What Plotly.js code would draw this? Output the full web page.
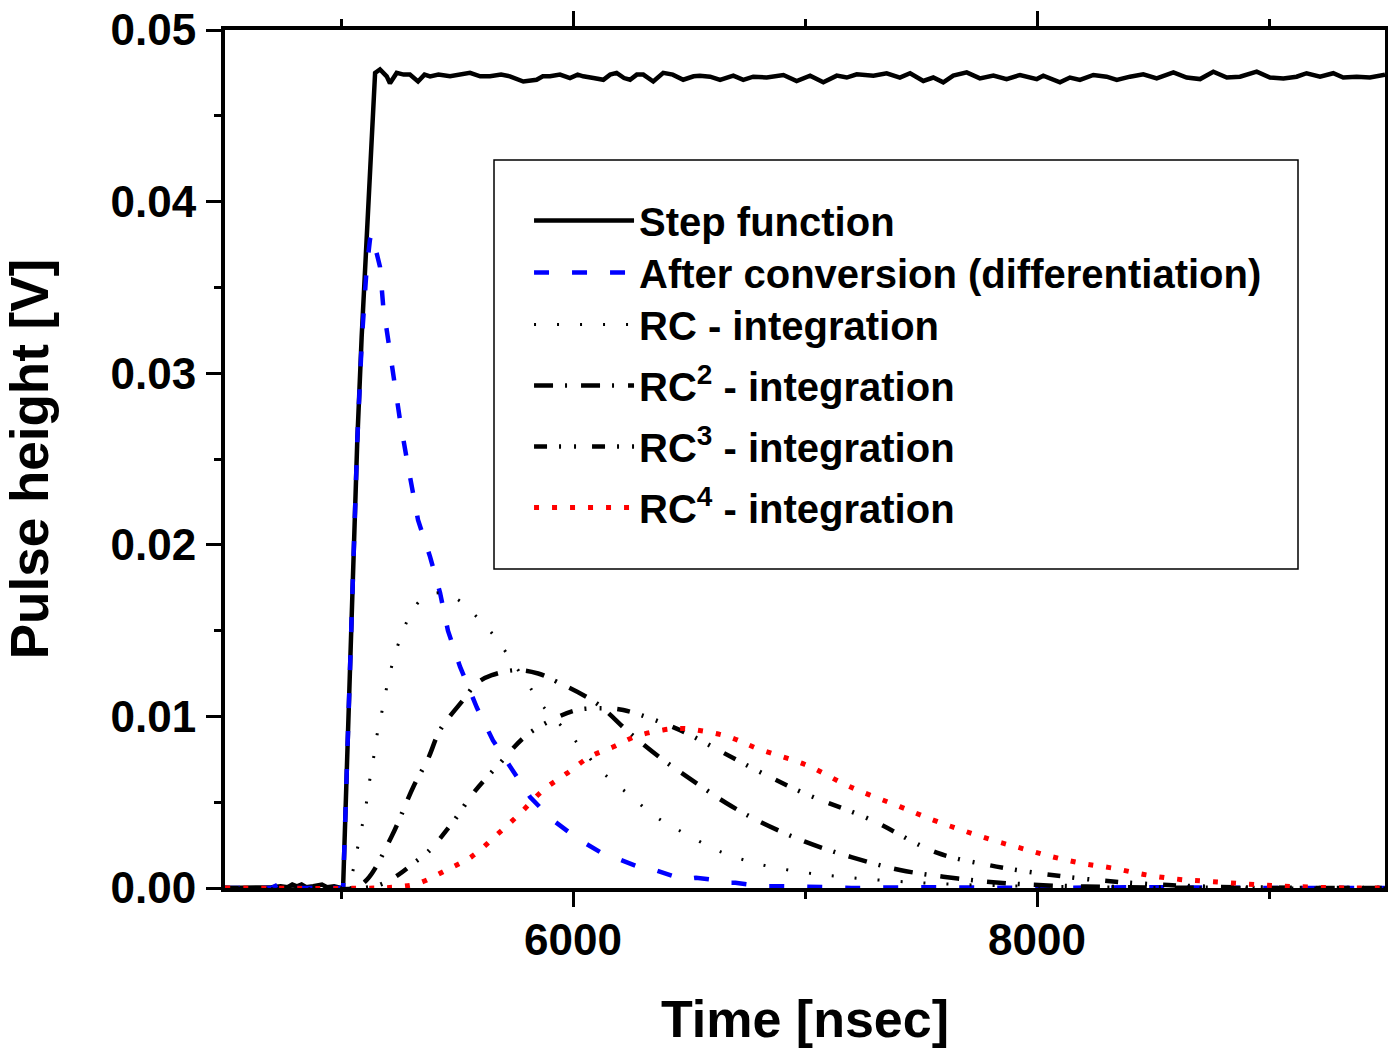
<!DOCTYPE html>
<html>
<head>
<meta charset="utf-8">
<script src="https://cdn.plot.ly/plotly-3.0.1.min.js"></script>
<style>html,body{margin:0;padding:0;background:#fff;}</style>
</head>
<body>
<div id="chart" style="width:1388px;height:1048px;"></div>
<script>
// ---- Data ----
const seriesNames = [
  "Step function",
  "After conversion (differentiation)",
  "RC - integration",
  "RC<sup>2</sup> - integration",
  "RC<sup>3</sup> - integration",
  "RC<sup>4</sup> - integration"
];

const stepX = [4500,4600,4700,4740,4770,4790,4810,4830,4850,4880,4900,4918,4940,4970,5000,5009,5030,5050,5070,5089,5103,5118,5128,5137,5147,5168,5197,5211,5240,5270,5297,5332,5360,5384,5420,5470,5510,5556,5600,5642,5690,5728,5786,5843,5870,5901,5944,5987,6020,6044,6088,6131,6160,6188,6220,6246,6275,6303,6346,6389,6430,6475,6520,6547,6591,6634,6691,6734,6777,6835,6907,6964,7022,7079,7137,7180,7223,7295,7352,7409,7453,7510,7553,7596,7639,7697,7754,7812,7869,7927,7999,8027,8099,8142,8185,8243,8300,8344,8401,8458,8516,8588,8645,8703,8760,8818,8875,8947,9004,9062,9119,9162,9220,9277,9320,9378,9435,9486,9500];
const stepY = [0,0,0.00005,0.0001,0.00005,0.0002,0.0001,0.0002,0.00005,0.0001,0.00015,0.0002,0.00005,0.0001,0,0,0.009,0.018,0.026,0.0321,0.0358,0.0397,0.0436,0.0459,0.0475,0.0477,0.0473,0.0469,0.0475,0.0474,0.0474,0.0470,0.0474,0.0473,0.0474,0.0473,0.0474,0.0475,0.0473,0.0473,0.0474,0.0473,0.0470,0.0471,0.0473,0.0473,0.0474,0.0472,0.0474,0.0473,0.0472,0.0471,0.0474,0.0475,0.0472,0.0471,0.0474,0.0474,0.0470,0.0475,0.0474,0.0471,0.0473,0.04734,0.04728,0.04709,0.04734,0.04709,0.04728,0.04723,0.04738,0.04703,0.04734,0.04695,0.04734,0.04723,0.04742,0.04734,0.04748,0.04723,0.04748,0.04703,0.04723,0.04695,0.04734,0.04753,0.04718,0.04734,0.04714,0.04738,0.04714,0.04734,0.04695,0.04723,0.04709,0.04738,0.04728,0.04709,0.04728,0.04742,0.04718,0.04753,0.04723,0.04714,0.04757,0.04723,0.04728,0.04757,0.04723,0.04718,0.04728,0.04748,0.04728,0.04748,0.04723,0.04728,0.04723,0.04738,0.0474];

const diffX = [4500,4700,4728,4750,4789,4810,4900,4918,4940,5000,5009,5030,5050,5070,5090,5110,5125,5132,5150,5168,5182,5204,5254,5290,5332,5384,5427,5461,5513,5586,5655,5728,5815,5909,6017,6116,6190,6240,6289,6340,6388,6430,6474,6530,6590,6650,6700,6760,6800,6900,7000,7100,7200,7500,8000,8500,9000,9500];
const diffY = [0,0,0.0002,0,0.0002,0,0,0.0002,0,0,0,0.009,0.0175,0.026,0.032,0.036,0.0378,0.0381,0.0372,0.0362,0.0339,0.0319,0.0273,0.0245,0.02145,0.0193,0.0172,0.015,0.0129,0.0105,0.0086,0.0071,0.0053,0.004,0.0029,0.0021,0.0017,0.0014,0.0012,0.0011,0.0009,0.0007,0.0005,0.0006,0.0005,0.0003,0.0003,0.0002,0.0001,0.0001,0.0001,0.00005,0,0.00005,0,0.00005,0,0];

const rc1X = [4500,5000,5020,5046,5068,5089,5108,5122,5139,5154,5175,5194,5218,5247,5286,5341,5420,5499,5578,5657,5714,5822,5872,6001,6116,6181,6253,6318,6389,6454,6547,6634,6800,7000,7200,7500,7800,8000,8500,9000,9500];
const rc1Y = [0,0,0.0001,0.00076,0.00212,0.00348,0.00484,0.00614,0.00746,0.00882,0.01018,0.0115,0.0129,0.01422,0.01558,0.01674,0.0172,0.01684,0.0159,0.01474,0.01368,0.01154,0.01057,0.00872,0.00688,0.0061,0.00532,0.00455,0.00387,0.00338,0.0027,0.00212,0.0014,0.0009,0.0006,0.0003,0.00015,0.0001,0.00003,0,0];

const rc2X = [4500,5050,5111,5218,5312,5376,5427,5527,5585,5650,5757,5850,5930,6102,6246,6389,6533,6662,6800,7000,7200,7409,7596,7783,8006,8300,8600,9000,9500];
const rc2Y = [0,0,0.00047,0.003,0.0059,0.00756,0.0092,0.01096,0.01193,0.0124,0.0127,0.0125,0.01202,0.01076,0.00901,0.00746,0.0061,0.00494,0.0039,0.0027,0.0018,0.00105,0.00066,0.00037,0.00017,0.00006,0.00002,0,0];

const rc3X = [4500,5100,5182,5250,5312,5376,5484,5570,5685,5793,5908,6016,6131,6217,6353,6490,6626,6800,7000,7280,7568,7790,8013,8250,8487,8724,9000,9500];
const rc3Y = [0,0,0.00027,0.0008,0.00144,0.00212,0.00387,0.00552,0.00727,0.00882,0.00979,0.01037,0.01047,0.01037,0.00979,0.00902,0.00804,0.0068,0.0055,0.004,0.00206,0.00134,0.00085,0.00047,0.00023,0.00008,0.00002,0];

const rc4X = [4500,5150,5254,5333,5455,5563,5671,5772,5872,5973,6073,6174,6267,6389,6460,6533,6669,6800,7000,7194,7409,7553,7675,7805,7934,8063,8193,8329,8473,8616,8760,8975,9119,9350,9500];
const rc4Y = [0,0,0.00008,0.00027,0.00105,0.00183,0.00309,0.00435,0.00571,0.00668,0.00765,0.00823,0.00882,0.00921,0.0093,0.00921,0.00882,0.0081,0.0072,0.0059,0.00474,0.00396,0.00338,0.0028,0.00231,0.00183,0.00144,0.00115,0.00076,0.0005,0.00037,0.00017,0.00008,0,0];

const xTickStep = 2000;
const yTickStep = 0.01;

// ---- Figure ----
const FONT = "Liberation Sans, Arial, Helvetica, sans-serif";
const legendIds = ["legend", "legend2", "legend3", "legend4", "legend5", "legend6"];
const legendTops = [0.8159, 0.7552, 0.6946, 0.6235, 0.5524, 0.4814];

const traces = [
  {x: stepX, y: stepY, name: seriesNames[0], mode: "lines",
   line: {color: "#000000", width: 4.5}},
  {x: diffX, y: diffY, name: seriesNames[1], mode: "lines",
   line: {color: "#0000ff", width: 4.5, dash: "15px,23px"}},
  {x: rc1X, y: rc1Y, name: seriesNames[2], mode: "lines",
   line: {color: "#000000", width: 3, dash: "2px,21px", shape: "spline"}},
  {x: rc2X, y: rc2Y, name: seriesNames[3], mode: "lines",
   line: {color: "#000000", width: 4.5, dash: "19px,12px,2px,14px", shape: "spline"}},
  {x: rc3X, y: rc3Y, name: seriesNames[4], mode: "lines",
   line: {color: "#000000", width: 4.5, dash: "13px,12px,2px,13px,2px,16px", shape: "spline"}},
  {x: rc4X, y: rc4Y, name: seriesNames[5], mode: "lines",
   line: {color: "#ff0000", width: 5, dash: "5px,13px", shape: "spline"}}
];
traces.forEach((t, i) => { t.legend = legendIds[i]; });

const layout = {
  width: 1388, height: 1048,
  margin: {l: 225, r: 3, t: 30, b: 160, pad: 0},
  paper_bgcolor: "#ffffff", plot_bgcolor: "#ffffff",
  font: {family: FONT, color: "#000000", weight: "bold"},
  showlegend: true,
  xaxis: {
    range: [4500, 9500], dtick: xTickStep, tick0: 0,
    showgrid: false, zeroline: false,
    showline: true, linecolor: "#000000", linewidth: 4, mirror: "ticks",
    ticks: "outside", ticklen: 15, tickwidth: 3, tickcolor: "#000000",
    minor: {dtick: 1000, tick0: 0, ticks: "outside", ticklen: 7, tickwidth: 3, tickcolor: "#000000", showgrid: false},
    tickfont: {family: FONT, size: 44, weight: "bold", color: "#000"},
    ticklabelstandoff: -5,
    title: {text: "Time [nsec]", font: {family: FONT, size: 52, weight: "bold", color: "#000"}, standoff: 43},
    automargin: false
  },
  yaxis: {
    range: [0, 0.05], dtick: yTickStep, tick0: 0, tickformat: ".2f",
    showgrid: false, zeroline: false,
    showline: true, linecolor: "#000000", linewidth: 4, mirror: true,
    ticks: "outside", ticklen: 15, tickwidth: 3, tickcolor: "#000000",
    minor: {dtick: 0.005, tick0: 0, ticks: "outside", ticklen: 7, tickwidth: 3, tickcolor: "#000000", showgrid: false},
    tickfont: {family: FONT, size: 44, weight: "bold", color: "#000"},
    ticklabelstandoff: 1,
    title: {text: "Pulse height [V]", font: {family: FONT, size: 53, weight: "bold", color: "#000"}, standoff: 51},
    automargin: false
  },
  shapes: [{
    type: "rect", xref: "paper", yref: "paper",
    x0: 0.2319, x1: 0.925, y0: 0.3718, y1: 0.8485,
    line: {color: "#000000", width: 1.5}, fillcolor: "rgba(0,0,0,0)", layer: "above"
  }]
};
legendIds.forEach((id, i) => {
  layout[id] = {
    x: 0.2621, y: legendTops[i], xanchor: "left", yanchor: "top",
    bgcolor: "rgba(0,0,0,0)", borderwidth: 0,
    font: {family: FONT, size: 40, weight: "bold", color: "#000"},
    itemwidth: 100
  };
});

Plotly.newPlot("chart", traces, layout, {displayModeBar: false, staticPlot: true});
</script>
</body>
</html>
